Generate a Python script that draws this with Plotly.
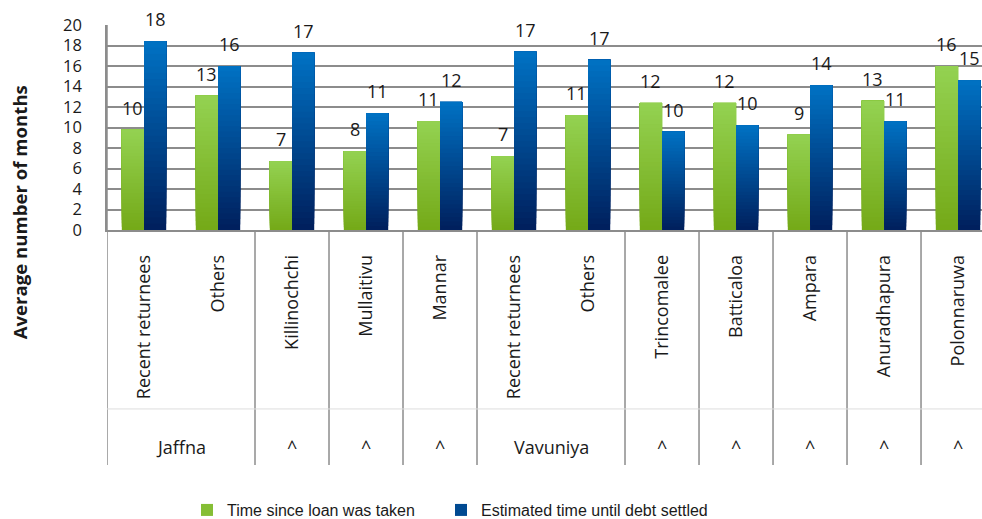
import plotly.graph_objects as go

# -----------------------------
# Data
# -----------------------------
categories = ["Recent returnees", "Others", "Killinochchi", "Mullaitivu", "Mannar",
              "Recent returnees", "Others", "Trincomalee", "Batticaloa", "Ampara",
              "Anuradhapura", "Polonnaruwa"]
group_labels = ["Jaffna", "^", "^", "^", "Vavuniya", "^", "^", "^", "^", "^"]
group_sizes = [2, 1, 1, 1, 2, 1, 1, 1, 1, 1]

time_since_loan = [9.8, 13.1, 6.7, 7.7, 10.6, 7.2, 11.2, 12.4, 12.4, 9.3, 12.6, 16.0]
time_until_settled = [18.4, 16.0, 17.3, 11.4, 12.5, 17.4, 16.6, 9.6, 10.2, 14.1, 10.6, 14.6]

series_names = ["Time since loan was taken", "Estimated time until debt settled"]

FONT = "Open Sans"
TXT = "#1a1a1a"
GRID = "#8c8c8c"

x_idx = list(range(len(categories)))


def mix(c1, c2, t):
    return "rgb(%d,%d,%d)" % tuple(round(a + (b - a) * t) for a, b in zip(c1, c2))


# (bottom colour, top colour) for a vertical gradient inside each bar
gradients = [((0x74, 0xa9, 0x17), (0x94, 0xd2, 0x52)),
             ((0x00, 0x1f, 0x5c), (0x00, 0x72, 0xc4))]
legends = ["legend", "legend2"]

fig = go.Figure()

# -----------------------------
# Bars: layered slices, each one running from its base to the bar top,
# so the upper (lighter) slices cover the lower ones -> vertical gradient
# -----------------------------
N = 30
for s, vals in enumerate([time_since_loan, time_until_settled]):
    lo, hi = gradients[s]
    for k in range(N):
        fig.add_trace(go.Bar(
            x=x_idx,
            y=[v * (N - k) / N for v in vals],
            base=[v * k / N for v in vals],
            offsetgroup=str(s),
            marker=dict(color=mix(lo, hi, (k + 0.5) / N), line=dict(width=0)),
            name=series_names[s],
            legend=legends[s],
            showlegend=(k == N // 2),
            hoverinfo="skip",
        ))

# -----------------------------
# Value labels
# -----------------------------
for s, vals in enumerate([time_since_loan, time_until_settled]):
    dx = -0.15 if s == 0 else 0.15
    for i, v in enumerate(vals):
        fig.add_annotation(x=i + dx, y=v, text=f"{v:.0f}", showarrow=False,
                           xanchor="center", yanchor="middle", yshift=22,
                           font=dict(family=FONT, size=18, color=TXT))

# -----------------------------
# Category dividers and group labels
# -----------------------------
bottom = -1.146
pos = -0.5
fig.add_shape(type="line", xref="x", yref="paper", x0=pos, x1=pos, y0=1, y1=bottom,
              line=dict(color=GRID, width=1.5))
for lab, n in zip(group_labels, group_sizes):
    fig.add_annotation(x=pos + n / 2, y=-1.059, xref="x", yref="paper", text=lab,
                       showarrow=False, xanchor="center", yanchor="middle",
                       font=dict(family=FONT, size=18, color=TXT))
    pos += n
    fig.add_shape(type="line", xref="x", yref="paper", x0=pos, x1=pos, y0=0, y1=bottom,
                  line=dict(color=GRID, width=1.5))

fig.add_shape(type="line", xref="paper", yref="paper", x0=0, x1=1, y0=-0.873, y1=-0.873,
              line=dict(color="#dddddd", width=1))

# y axis title
fig.add_annotation(x=-0.099, y=0.088, xref="paper", yref="paper",
                   text="<b>Average number of months</b>", textangle=-90, showarrow=False,
                   xanchor="center", yanchor="middle",
                   font=dict(family=FONT, size=18.6, color=TXT))

# -----------------------------
# Layout
# -----------------------------
legend_font = dict(family="Liberation Sans", size=16, color=TXT)
fig.update_layout(
    width=982, height=519,
    margin=dict(l=107, r=0, t=25, b=289, autoexpand=False),
    paper_bgcolor="white", plot_bgcolor="white",
    barmode="group", bargap=0.4, bargroupgap=0,
    font=dict(family=FONT, size=18, color=TXT),
    xaxis=dict(range=[-0.5, 11.324], tickmode="array", tickvals=x_idx, ticktext=categories,
               tickangle=-90, ticks="outside", ticklen=16, tickcolor="rgba(0,0,0,0)",
               showgrid=False, zeroline=False, showline=True, linecolor=GRID, linewidth=1.5,
               automargin=False, tickfont=dict(family=FONT, size=18, color=TXT)),
    yaxis=dict(range=[0, 20], dtick=2, showgrid=True, gridcolor=GRID, gridwidth=1.5,
               zeroline=False, showline=True, linecolor=GRID, linewidth=1.5,
               ticks="outside", ticklen=20, tickcolor="rgba(0,0,0,0)", automargin=False,
               tickfont=dict(family=FONT, size=16.5, color=TXT)),
    legend=dict(orientation="h", x=0.0914, y=-1.366, yanchor="middle", xanchor="left",
                font=legend_font),
    legend2=dict(orientation="h", x=0.3817, y=-1.366, yanchor="middle", xanchor="left",
                 font=legend_font),
)

# drop the default page margin so the figure fills the window exactly
fig.write_html("out.html", config={"displayModeBar": False},
               post_script="document.body.style.margin='0';")
